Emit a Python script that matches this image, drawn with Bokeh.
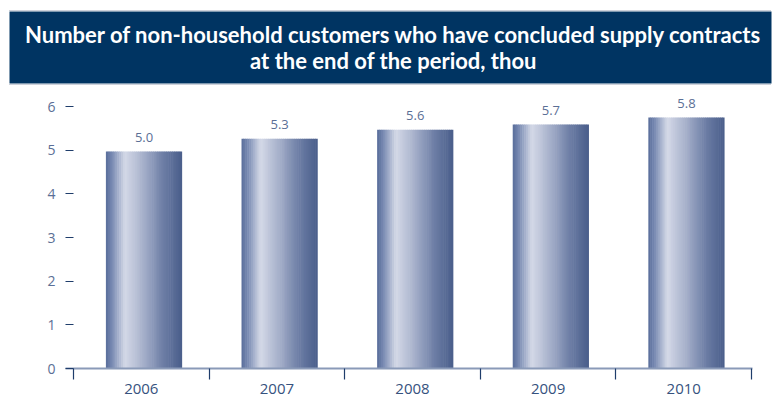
from bokeh.plotting import figure
from bokeh.layouts import column
from bokeh.models import Range1d, FixedTicker
from bokeh.core.properties import value
from bokeh.embed import file_html
from bokeh.resources import INLINE

# ---- data ----
title_lines = ["Number of non-household customers who have concluded supply contracts",
               "at the end of the period, thou"]
years = ["2006", "2007", "2008", "2009", "2010"]
bar_values = [4.97, 5.26, 5.47, 5.59, 5.75]
value_labels = ["5.0", "5.3", "5.6", "5.7", "5.8"]
y_ticks = [0, 1, 2, 3, 4, 5, 6]

W = 773
TH = 86
NAVY = "#003462"
TICK = "#1f3d6b"
LABEL = "#5b6f96"

# ---- title block ----
t = figure(width=W, height=TH, x_range=Range1d(0, W), y_range=Range1d(0, TH),
           output_backend="svg", toolbar_location=None, min_border=0)
t.frame_align = False
t.axis.visible = False
t.grid.visible = False
t.outline_line_color = None
t.background_fill_color = "white"
t.border_fill_color = "white"
t.quad(left=[9], right=[771], bottom=[3], top=[75], fill_color=NAVY, line_color=None)
t.segment(x0=[9, 9], x1=[771, 771], y0=[76, 2], y1=[76, 2],
          line_color="#9aa3b5", line_dash="1 1", line_width=1)
t.text(x=[393, 393], y=[52, 26], text=title_lines, text_align="center",
       text_baseline="middle", text_font=value("Lato"),
       text_font_style="bold", text_font_size="22px", text_color="white")

# ---- chart ----
p = figure(width=W, height=418 - TH, x_range=Range1d(-0.059, 5.007), y_range=Range1d(0, 6.39),
           output_backend="svg", toolbar_location=None,
           min_border_left=65, min_border_right=21, min_border_top=3, min_border_bottom=50)
p.frame_align = False
p.grid.visible = False
p.outline_line_color = None
p.background_fill_color = "white"
p.border_fill_color = "white"

stops = [(0.0, (88, 108, 154)), (0.08, (120, 138, 178)), (0.25, (212, 217, 231)),
         (0.5, (165, 175, 202)), (0.75, (110, 127, 166)), (1.0, (74, 94, 139))]


def grad(f):
    for (a, ca), (b, cb) in zip(stops[:-1], stops[1:]):
        if a <= f <= b:
            u = (f - a) / (b - a)
            c = [round(ca[j] + (cb[j] - ca[j]) * u) for j in range(3)]
            return "#%02x%02x%02x" % tuple(c)
    return "#%02x%02x%02x" % stops[-1][1]


N = 40
bar_w = 0.558
shift = 0.02
centers = [i + 0.5 + shift for i in range(len(years))]
xs, tops, cols = [], [], []
for c, v in zip(centers, bar_values):
    for k in range(N):
        f = (k + 0.5) / N
        xs.append(c - bar_w / 2 + f * bar_w)
        tops.append(v)
        cols.append(grad(f))
p.vbar(x=xs, top=tops, bottom=0, width=bar_w / N * 1.3, fill_color=cols, line_color=None)

p.text(x=centers, y=bar_values, text=value_labels, text_align="center",
       text_baseline="alphabetic", y_offset=-14, text_font=value("Open Sans"),
       text_font_size="13px", text_color=LABEL)

# x axis
xa = p.xaxis[0]
xa.ticker = FixedTicker(ticks=[i + 0.5 for i in range(len(years))],
                        minor_ticks=list(range(len(years) + 1)))
xa.major_label_overrides = {i + 0.5: y for i, y in enumerate(years)}
xa.axis_line_color = "#8a9ab8"
xa.axis_line_width = 2
xa.major_tick_line_color = None
xa.major_tick_in = 0
xa.major_tick_out = 0
xa.minor_tick_line_color = TICK
xa.minor_tick_line_width = 1.2
xa.minor_tick_in = 0
xa.minor_tick_out = 11
xa.major_label_standoff = 4
xa.major_label_text_font = "Open Sans"
xa.major_label_text_font_size = "15px"
xa.major_label_text_color = "#36527e"

# y axis
ya = p.yaxis[0]
ya.ticker = FixedTicker(ticks=y_ticks)
ya.axis_line_color = None
ya.major_tick_in = 8
ya.major_tick_out = 0
ya.major_tick_line_color = TICK
ya.major_tick_line_width = 1.2
ya.minor_tick_line_color = None
ya.major_label_standoff = 10
ya.major_label_text_font = "Open Sans"
ya.major_label_text_font_size = "14px"
ya.major_label_text_color = LABEL

layout = column(t, p, spacing=0)
open("out.html", "w").write(file_html(layout, INLINE))
